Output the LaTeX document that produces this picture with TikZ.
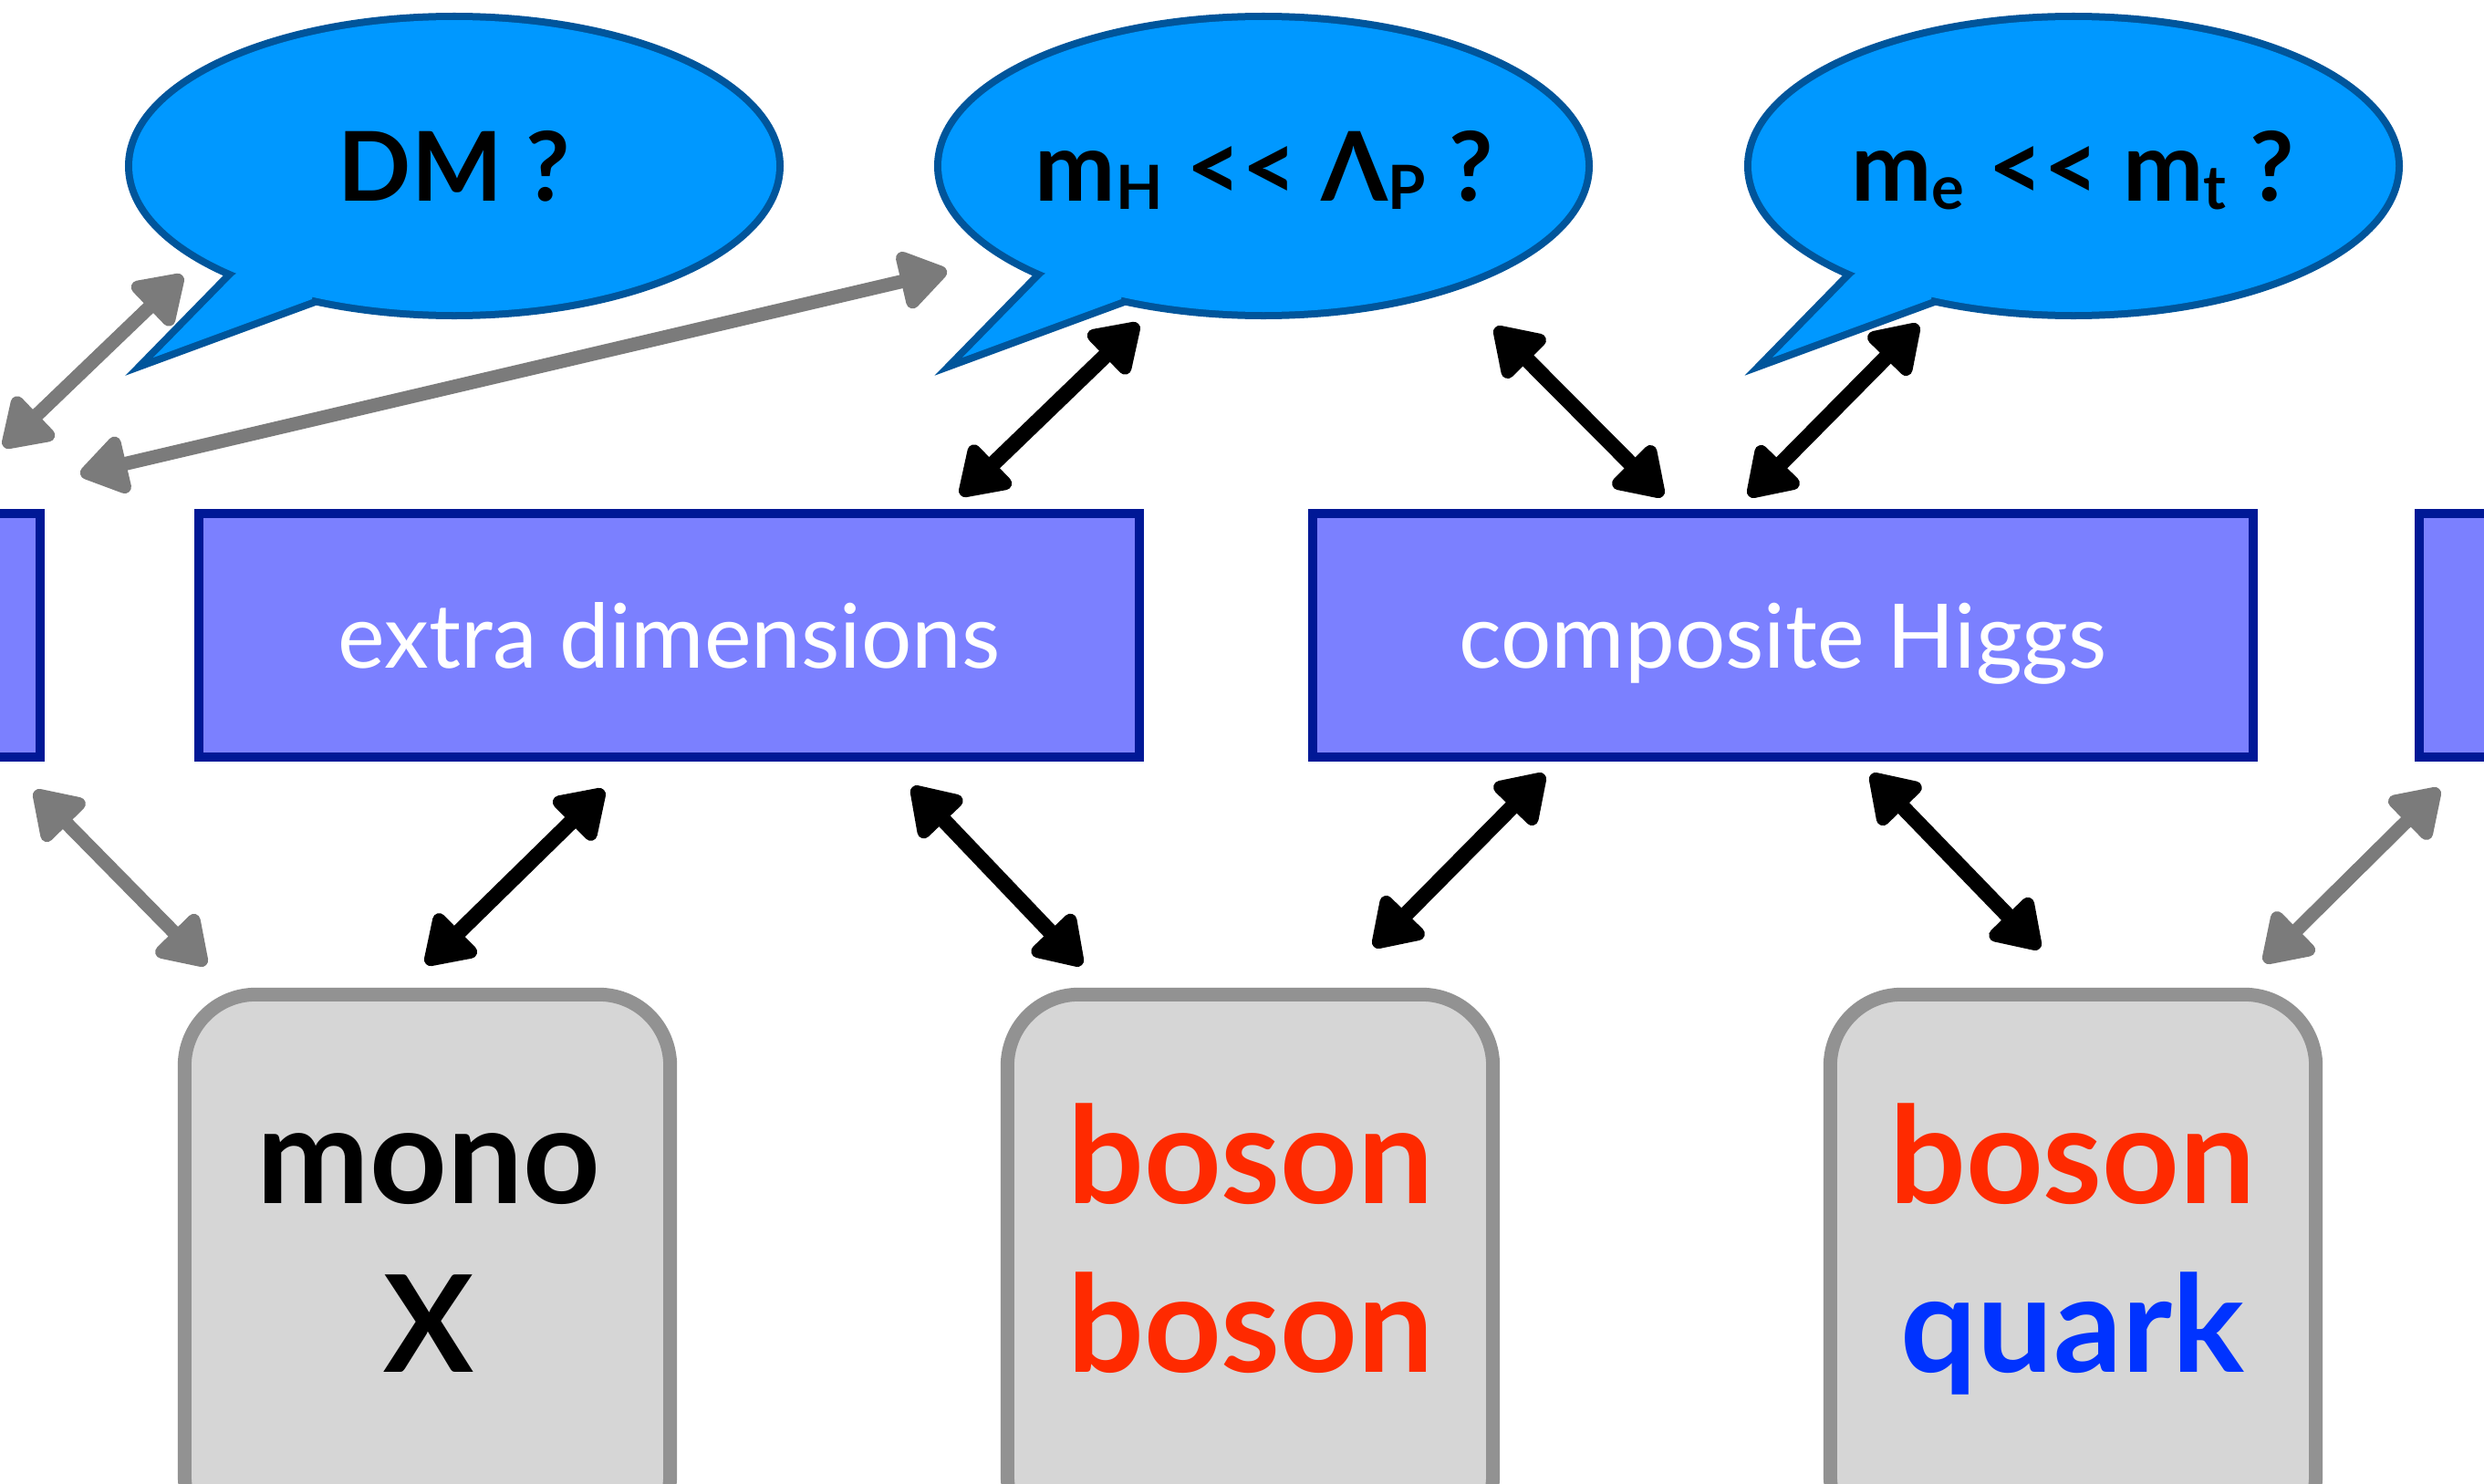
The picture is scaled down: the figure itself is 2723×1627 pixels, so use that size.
\documentclass[tikz,border=0pt]{standalone}
\usepackage{fontspec}
\setmainfont{Lato}
\usetikzlibrary{arrows.meta,shapes.geometric,calc}
\definecolor{bubfill}{RGB}{0,152,255}
\definecolor{bubline}{RGB}{0,85,155}
\definecolor{rectfill}{RGB}{123,128,255}
\definecolor{rectline}{RGB}{0,24,150}
\definecolor{boxfill}{RGB}{214,214,214}
\definecolor{boxline}{RGB}{146,146,146}
\definecolor{arrgray}{RGB}{123,123,123}
\definecolor{txtred}{RGB}{255,42,0}
\definecolor{txtblue}{RGB}{0,51,255}
\newcommand\myfs[1]{\fontsize{#1}{#1}\selectfont}
\newcommand\lsub[1]{\raisebox{-2.8pt}{\myfs{19}#1}}
\newcommand\mybubble[2]{%
  \begin{scope}[shift={(#1,#2)}]
    \draw[bubline,line width=0.16cm] (0,0) ellipse [x radius=353,y radius=160];
    \draw[bubline,line width=0.16cm,line join=miter]
      (-242,120) -- (-330,210) -- (-156,146) -- (-138,48) -- cycle;
    \fill[bubfill] (0,0) ellipse [x radius=353,y radius=160];
    \fill[bubfill] (-242,120) -- (-330,210) -- (-156,146) -- (-138,48) -- cycle;
  \end{scope}}
\tikzset{
  bubtext/.style={anchor=base,font=\bfseries\myfs{30},text=black,inner sep=0pt},
  dimbox/.style={rectangle,draw=rectline,fill=rectfill,line width=0.10cm,
    minimum width=10.31cm,minimum height=2.67cm,inner sep=0pt,
    text height=0.71cm,text depth=0cm,text=white,font=\myfs{27.8}},
  graybox/.style={rectangle,draw=boxline,fill=boxfill,line width=0.15cm,
    rounded corners=0.78cm,minimum width=5.32cm,minimum height=6.05cm},
  boxtext/.style={anchor=base,font=\bfseries\myfs{42},inner sep=0pt},
  blkarrow/.style={draw=black,line width=0.17cm,
    {Triangle[round,length=0.58cm,width=0.72cm]}-{Triangle[round,length=0.58cm,width=0.72cm]}},
  grayarrow/.style={blkarrow,draw=arrgray,fill=arrgray,line width=0.15cm}
}
\begin{document}
\begin{tikzpicture}[x=0.01cm,y=-0.01cm]
\useasboundingbox (0,0) rectangle (2723,1627);
\clip (0,0) rectangle (2723,1627);
\fill[white] (0,0) rectangle (2723,1627);

% speech bubbles
\mybubble{498}{182}
\mybubble{1385}{182}
\mybubble{2273}{182}
\node[bubtext] (dm) at (498,220) {DM ?};
\node[bubtext] (mh) at (1386,220) {m\lsub{H} <{}< Λ\lsub{P} ?};
\node[bubtext] (me) at (2272,220) {m\lsub{e} <{}< m\lsub{t} ?};

% model boxes
\node[dimbox] (left) at (-472,696.5) {};
\node[dimbox] (ed) at (733.5,696.5) {extra dimensions};
\node[dimbox] (ch) at (1954.5,696.5) {composite Higgs};
\node[dimbox] (right) at (3168,696.5) {};

% signature boxes
\node[graybox] (mx) at (468.5,1393) {};
\node[graybox] (bb) at (1370.5,1393) {};
\node[graybox] (bq) at (2272.5,1393) {};
\node[boxtext,text=black] (mx1) at (470,1319) {mono};
\node[boxtext,text=black] (mx2) at (470,1504) {X};
\node[boxtext,text=txtred] (bb1) at (1371,1319) {boson};
\node[boxtext,text=txtred] (bb2) at (1371,1504) {boson};
\node[boxtext,text=txtred] (bq1) at (2272,1319) {boson};
\node[boxtext,text=txtblue] (bq2) at (2272,1504) {quark};

% arrow end points
\coordinate (a1s) at (1053,543);  \coordinate (a1e) at (1248,355);
\coordinate (a2s) at (1639,359);  \coordinate (a2e) at (1823,544);
\coordinate (a3s) at (1917,544);  \coordinate (a3e) at (2103,356);
\coordinate (a4s) at (467,1057);  \coordinate (a4e) at (662,866);
\coordinate (a5s) at (1000,863);  \coordinate (a5e) at (1186,1058);
\coordinate (a6s) at (1506,1038); \coordinate (a6e) at (1693,849);
\coordinate (a7s) at (2051,849);  \coordinate (a7e) at (2236,1040);
\coordinate (g1s) at (4,490);     \coordinate (g1e) at (200,302);
\coordinate (g2s) at (88,520);    \coordinate (g2e) at (1038,297);
\coordinate (g3s) at (38,867);    \coordinate (g3e) at (226,1058);
\coordinate (g4s) at (2482,1055); \coordinate (g4e) at (2674,865);

\draw[blkarrow] (a1s) -- (a1e);
\draw[blkarrow] (a2s) -- (a2e);
\draw[blkarrow] (a3s) -- (a3e);
\draw[blkarrow] (a4s) -- (a4e);
\draw[blkarrow] (a5s) -- (a5e);
\draw[blkarrow] (a6s) -- (a6e);
\draw[blkarrow] (a7s) -- (a7e);
\draw[grayarrow] (g1s) -- (g1e);
\draw[grayarrow] (g2s) -- (g2e);
\draw[grayarrow] (g3s) -- (g3e);
\draw[grayarrow] (g4s) -- (g4e);
\end{tikzpicture}
\end{document}
